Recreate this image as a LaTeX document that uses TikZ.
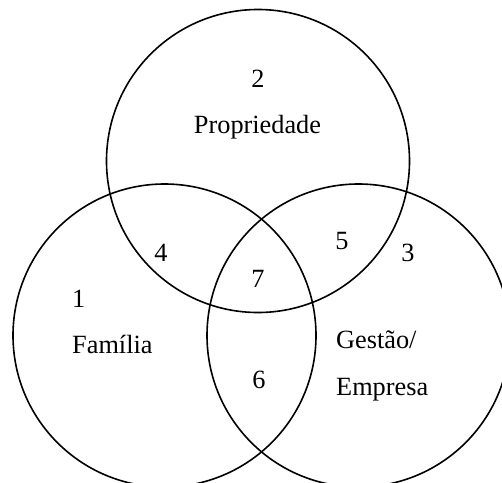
\documentclass[tikz,border=0pt]{standalone}
\usepackage{fontspec}
\setmainfont{Liberation Serif}
\begin{document}
\begin{tikzpicture}[x=1pt,y=-1pt,
  ring/.style={circle,draw,line width=1.6pt,minimum size=303pt,inner sep=0pt},
  lbl/.style={font=\fontsize{26.3}{30}\selectfont,inner sep=0pt,anchor=base},
  lblw/.style={lbl,anchor=base west}]
  \useasboundingbox (0,0) rectangle (502,482);
  \clip (0,0) rectangle (502,482);
  % the three sets
  \node[ring] (prop) at (258,161) {};
  \node[ring] (fam)  at (164.5,335.5) {};
  \node[ring] (emp)  at (358.5,335.5) {};
  % region labels
  \node[lbl]  (n2) at (258,87) {2};
  \node[lbl]  (tprop) at (257.5,133) {Propriedade};
  \node[lbl]  (n4) at (161,261) {4};
  \node[lbl]  (n5) at (342,249) {5};
  \node[lbl]  (n3) at (408,261) {3};
  \node[lbl]  (n7) at (258,287) {7};
  \node[lblw] (n1) at (72,307) {1};
  \node[lblw] (tfam) at (72,353) {Família};
  \node[lbl]  (n6) at (259,388) {6};
  \node[lblw] (tges) at (336,348) {Gestão/};
  \node[lblw] (temp) at (336,395) {Empresa};
\end{tikzpicture}
\end{document}
